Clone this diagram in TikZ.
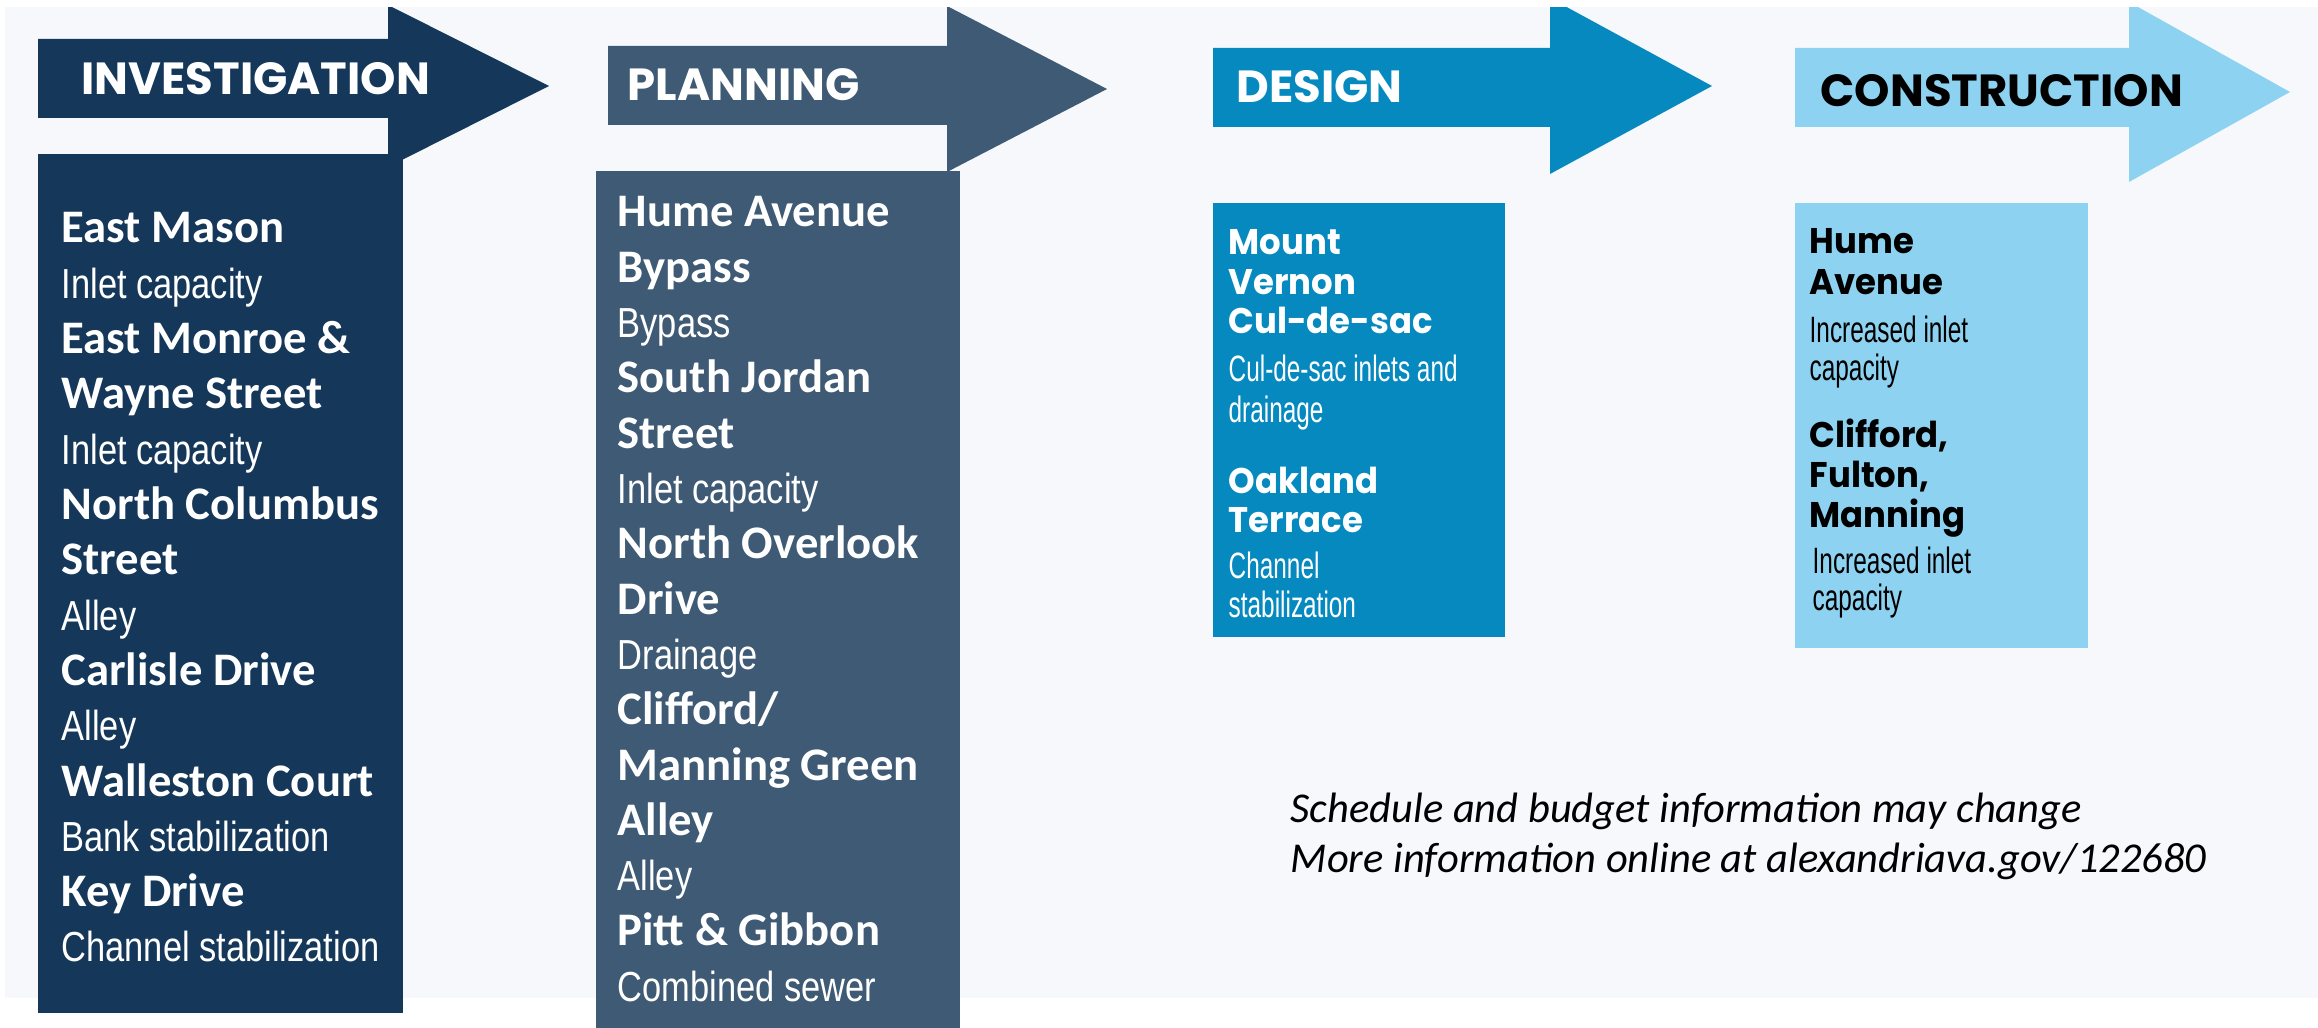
\documentclass[tikz,border=0pt]{standalone}
\usepackage{fontspec}
\setmainfont{Carlito}
\newfontfamily\narrowfont[FakeStretch=0.82]{Liberation Sans}
\newfontfamily\condfont[FakeStretch=0.665]{Liberation Sans}
\newfontfamily\headfont{Poppins}
\newfontfamily\sitefont[FakeStretch=0.95]{Poppins}

\definecolor{invblue}{HTML}{14375A}
\definecolor{planblue}{HTML}{3E5A74}
\definecolor{designblue}{HTML}{0589BF}
\definecolor{buildblue}{HTML}{8DD3F1}
\definecolor{pagebg}{HTML}{F6F8FC}

\begin{document}
\begin{tikzpicture}[
        x = .3pt,
        y = -.3pt,
        every node/.style = {inner sep=0pt, anchor=base west},
        phase/.style = {font=\fontsize{13.5}{15}\headfont\bfseries\selectfont},
        street/.style = {font=\fontsize{14}{16}\bfseries\selectfont},
        work/.style = {font=\fontsize{12.6}{15}\narrowfont\selectfont},
        site/.style = {font=\fontsize{10.7}{13}\sitefont\bfseries\selectfont},
        task/.style = {font=\fontsize{11}{13}\condfont\selectfont},
        note/.style = {font=\fontsize{12.75}{15}\itshape\selectfont}
    ]
        \useasboundingbox (0,0) rectangle (2318,1028);
        \fill[white] (0,0) rectangle (2318,1028);
        \fill[pagebg] (5,7) rectangle (2318,998);
        % phase arrows
        \foreach \l/\r/\t/\b/\ht/\hb/\tip/\c in {
            38/388/39/118/5/167/549/invblue,
            608/947/46/125/6/172/1107/planblue,
            1213/1550/48/127/-2/174/1712/designblue,
            1795/2129/48/127/2/182/2290/buildblue}
            \fill[\c] (\l,\t) -- (\r,\t) -- (\r,\ht) -- (\tip,{(\ht+\hb)/2})
                -- (\r,\hb) -- (\r,\b) -- (\l,\b) -- cycle;
        \fill[white] (0,0) rectangle (2318,7);
        \node[phase, white] (inv) at (81,95) {INVESTIGATION};
        \node[phase, white] (plan) at (627,101) {PLANNING};
        \node[phase, white] (design) at (1236,103) {DESIGN};
        \node[phase, black] (build) at (1820,107) {CONSTRUCTION};
        % project boxes
        \fill[invblue] (38,154) rectangle (403,1013);
        \fill[planblue] (596,171) rectangle (960,1028);
        \fill[designblue] (1213,203) rectangle (1505,637);
        \fill[buildblue] (1795,203) rectangle (2088,648);
        % investigation
        \foreach \s/\t [count=\i] in {
            street/East Mason, work/Inlet capacity,
            street/East Monroe \&, street/Wayne Street, work/Inlet capacity,
            street/North Columbus, street/Street, work/Alley,
            street/Carlisle Drive, work/Alley,
            street/Walleston Court, work/Bank stabilization,
            street/Key Drive, work/Channel stabilization}
            \node[\s, white] (inv\i) at (61,{243+55.3*(\i-1)}) {\t};
        % planning
        \foreach \s/\t [count=\i] in {
            street/Hume Avenue, street/Bypass, work/Bypass,
            street/South Jordan, street/Street, work/Inlet capacity,
            street/North Overlook, street/Drive, work/Drainage,
            street/{Clifford/}, street/Manning Green, street/Alley, work/Alley,
            street/Pitt \& Gibbon, work/Combined sewer}
            \node[\s, white] (plan\i) at (617,{227+55.3*(\i-1)}) {\t};
        % design
        \foreach \y/\s/\t [count=\i] in {
            255/site/Mount, 295/site/Vernon, 333/site/Cul-de-sac,
            382/task/Cul-de-sac inlets and, 422/task/drainage,
            493/site/Oakland, 532/site/Terrace,
            578/task/Channel, 617/task/stabilization}
            \node[\s, white] (design\i) at (1228,\y) {\t};
        % construction
        \foreach \x/\y/\s/\t [count=\i] in {
            1809/254/site/Hume, 1809/295/site/Avenue,
            1809/342/task/Increased inlet, 1809/380/task/capacity,
            {1809/447/site/Clifford,}, {1809/487/site/Fulton,},
            1809/527/site/Manning,
            1812/573/task/Increased inlet, 1812/610/task/capacity}
            \node[\s, black] (build\i) at (\x,\y) {\t};
        \node[note] (note1) at (1290,822) {Schedule and budget information may change};
        \node[note] (note2) at (1290,872) {More information online at alexandriava.gov/122680};
    \end{tikzpicture}
\end{document}
